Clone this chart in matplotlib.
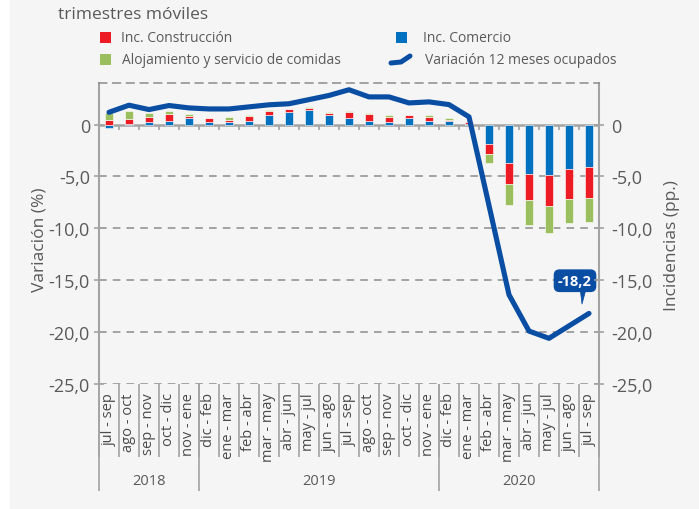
import matplotlib
matplotlib.use('Agg')
import matplotlib.pyplot as plt
from matplotlib.patches import Rectangle
from matplotlib.lines import Line2D
import matplotlib.transforms as mtransforms
import numpy as np

# ---------------- data ----------------
periodos = ['jul - sep', 'ago - oct', 'sep - nov', 'oct - dic', 'nov - ene',
            'dic - feb', 'ene - mar', 'feb - abr', 'mar - may', 'abr - jun',
            'may - jul', 'jun - ago', 'jul - sep', 'ago - oct', 'sep - nov',
            'oct - dic', 'nov - ene',
            'dic - feb', 'ene - mar', 'feb - abr', 'mar - may', 'abr - jun',
            'may - jul', 'jun - ago', 'jul - sep']
anios = ['2018', '2019', '2020']
periodos_por_anio = [5, 12, 8]

comercio = [-0.35, 0.02, 0.20, 0.38, 0.58, 0.20, 0.20, 0.35, 0.90, 1.20,
            1.44, 0.90, 0.67, 0.35, 0.26, 0.67, 0.35, 0.30, 0.08,
            -1.92, -3.75, -4.74, -4.87, -4.26, -4.13]
construccion = [0.42, 0.50, 0.48, 0.67, 0.22, 0.38, 0.26, 0.50, 0.38, 0.26,
                0.16, 0.19, 0.50, 0.64, 0.50, 0.22, 0.42, 0.16, 0.12,
                -0.93, -1.99, -2.53, -2.98, -2.92, -2.95]
alojamiento = [0.70, 0.83, 0.45, 0.26, 0.26, 0.05, 0.26, 0.10, 0.10, 0.06,
               0.13, 0.10, 0.10, 0.10, 0.13, 0.03, 0.13, 0.19, 0.08,
               -0.90, -2.05, -2.44, -2.56, -2.34, -2.31]
variacion = [1.18, 1.86, 1.44, 1.83, 1.60, 1.50, 1.50, 1.70, 1.90, 2.00,
             2.40, 2.80, 3.35, 2.66, 2.66, 2.08, 2.18, 1.92, 0.74,
             -7.8, -16.4, -19.9, -20.6, -19.4, -18.2]
yticks = [0, -5, -10, -15, -20, -25]
ytick_labels = ['0', '-5,0', '-10,0', '-15,0', '-20,0', '-25,0']

# ---------------- style ----------------
plt.rcParams['font.family'] = ['Open Sans', 'DejaVu Sans']
C_BLUE = '#0070c0'
C_RED = '#ed1c24'
C_GREEN = '#9bbf5f'
C_LINE = '#0a4ea3'
C_GRAY = '#a3a3a3'
C_GRID = '#8c8c8c'
C_TXT = '#5a5a5a'

W, H = 699, 510
def px(x, y):
    return (x / W, 1 - y / H)

fig = plt.figure(figsize=(W / 100, H / 100), dpi=100, facecolor='white')
fig.add_artist(Rectangle(px(10, H), 1, 1, transform=fig.transFigure,
                         fc='#f5f5f5', ec='none', zorder=-10))

ax_l, ax_r, ax_t, ax_b = 99, 599, 84, 385
ax = fig.add_axes([ax_l / W, 1 - ax_b / H, (ax_r - ax_l) / W, (ax_b - ax_t) / H])
ax.set_facecolor('none')

n = len(periodos)
x = np.arange(n)

# stacked bars (positives up, negatives down)
pos_base = np.zeros(n)
neg_base = np.zeros(n)
for vals, col in [(comercio, C_BLUE), (construccion, C_RED), (alojamiento, C_GREEN)]:
    v = np.array(vals, dtype=float)
    bottom = np.where(v >= 0, pos_base, neg_base)
    ax.bar(x, v, 0.42, bottom=bottom, color=col, edgecolor='#ffffff',
           linewidth=0.4, zorder=3)
    pos_base += np.where(v >= 0, v, 0)
    neg_base += np.where(v < 0, v, 0)

ax.plot(x, variacion, color=C_LINE, lw=3.7, solid_joinstyle='round',
        solid_capstyle='round', zorder=5)

ax.set_xlim(-0.5, n - 0.5)
ax.set_ylim(-25, 4)

# grid and spines
for yv in yticks[1:]:
    ax.axhline(yv, color=C_GRID, lw=1.1, ls=(0, (5, 4)), zorder=1)
ax.axhline(0, color=C_GRAY, lw=1.8, zorder=2)
for s in ['left', 'right']:
    ax.spines[s].set_color(C_GRAY)
    ax.spines[s].set_linewidth(1.5)
ax.spines['top'].set_color(C_GRID)
ax.spines['top'].set_linewidth(1.1)
ax.spines['top'].set_linestyle((0, (5, 4)))
ax.spines['bottom'].set_visible(False)

# small ticks at the zero line
bounds = np.arange(n + 1) - 0.5
ax.vlines(bounds[1:-1], -0.5, 0, color=C_GRAY, lw=1.2, zorder=2)

# y axes
ax.set_yticks(yticks)
ax.set_yticklabels(ytick_labels)
ax.tick_params(axis='y', direction='inout', length=7, width=1.2, color=C_GRAY,
               labelsize=13, labelcolor=C_TXT, pad=3)
ax.set_ylabel('Variación (%)', fontsize=12.5, color=C_TXT)
ax.yaxis.set_label_coords((47 - ax_l) / (ax_r - ax_l), (ax_b - 240) / (ax_b - ax_t))

ax2 = ax.twinx()
ax2.set_ylim(ax.get_ylim())
ax2.set_yticks(yticks)
ax2.set_yticklabels(ytick_labels)
ax2.tick_params(axis='y', direction='inout', length=7, width=1.2, color=C_GRAY,
                labelsize=13, labelcolor=C_TXT, pad=5)
for s in ax2.spines.values():
    s.set_visible(False)
ax2.set_ylabel('Incidencias (pp.)', fontsize=12.5, color=C_TXT)
ax2.yaxis.set_label_coords((664 - ax_l) / (ax_r - ax_l), (ax_b - 246) / (ax_b - ax_t))

# x axis: rotated period labels, separators, years
ax.set_xticks(x)
ax.set_xticklabels(periodos, rotation=90, fontsize=10.5, color='#4a4a4a')
ax.tick_params(axis='x', length=0, pad=6)
trans = mtransforms.blended_transform_factory(ax.transData, ax.transAxes)
ax.vlines(bounds, -(458 - ax_b) / (ax_b - ax_t), 0, transform=trans,
          clip_on=False, color=C_GRAY, lw=1.2)
ybounds = np.concatenate([[0], np.cumsum(periodos_por_anio)]) - 0.5
ax.vlines(ybounds, -(492 - ax_b) / (ax_b - ax_t), 0, transform=trans,
          clip_on=False, color=C_GRAY, lw=1.2)
for i, a in enumerate(anios):
    cx = (ybounds[i] + ybounds[i + 1]) / 2
    ax.text(cx, -(482 - ax_b) / (ax_b - ax_t), a, transform=trans,
            ha='center', va='center', fontsize=10.5, color=C_TXT)

# label of the last value (callout with a small tail)
ax.annotate('-18,2', xy=(23.65, -17.3), xytext=(23.3, -15.05),
            ha='center', va='center', fontsize=10.5, fontweight='bold',
            color='white', zorder=6,
            bbox=dict(boxstyle='round,pad=0.3,rounding_size=0.4',
                      fc=C_LINE, ec='none'),
            arrowprops=dict(arrowstyle='wedge,tail_width=0.55,shrink_factor=0.5',
                            fc=C_LINE, ec=C_LINE, lw=0.5, patchA=None,
                            shrinkA=0, shrinkB=0, relpos=(0.75, 0.3)))

# subtitle
fig.text(*px(58, 15), 'trimestres móviles', fontsize=12.5, color=C_TXT,
         ha='left', va='center')

# legend (manual layout)
def sq(xp, yp, col):
    fig.add_artist(Rectangle(px(xp, yp + 11), 11 / W, 11 / H,
                             transform=fig.transFigure, fc=col, ec='none'))
sq(100, 33, C_RED)
fig.text(*px(121, 38.5), 'Inc. Construcción', fontsize=10, color=C_TXT, va='center')
sq(100, 55, C_GREEN)
fig.text(*px(122, 60.5), 'Alojamiento y servicio de comidas', fontsize=10,
         color=C_TXT, va='center')
sq(396, 33, C_BLUE)
fig.text(*px(423, 38.5), 'Inc. Comercio', fontsize=10, color=C_TXT, va='center')
fig.add_artist(Line2D([391 / W, 401 / W, 410 / W],
                      [1 - 64 / H, 1 - 63 / H, 1 - 57 / H],
                      transform=fig.transFigure, color=C_LINE, lw=3.6,
                      solid_capstyle='round'))
fig.text(*px(425, 60.5), 'Variación 12 meses ocupados', fontsize=10,
         color=C_TXT, va='center')

fig.savefig('out.png', dpi=100, facecolor=fig.get_facecolor())
